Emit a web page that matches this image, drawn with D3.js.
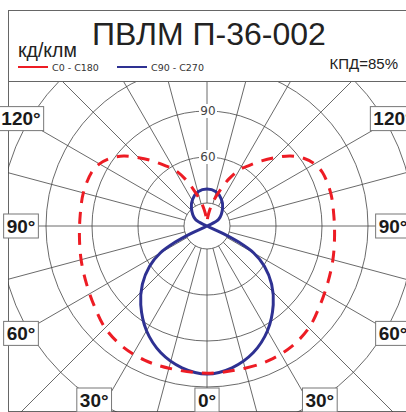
<!DOCTYPE html>
<html>
<head>
<meta charset="utf-8">
<script src="https://cdn.jsdelivr.net/npm/d3@7"></script>
<style>
body { margin: 0; background: #fff; }
svg { display: block; }
</style>
</head>
<body>
<div id="chart"></div>
<script>
// grid
var ringValues = [30, 60, 90, 120, 150];
var ringLabelValues = [60, 90];
var spokeAngles = d3.range(0, 360, 15);
var angleLabels = [-120, -90, -60, -30, 0, 30, 60, 90, 120];

// C0 - C180 (one half, mirrored on the other side)
var redAngles = [0, 15, 25, 35, 45, 55, 65, 75, 85, 95, 105, 115, 120, 125, 130, 135, 140, 145, 150, 155, 160, 165, 170, 175, 180];
var redValues = [111, 111, 111.5, 111, 109, 105, 102, 100, 98.5, 98, 98.5, 98, 96, 92, 86, 78, 70.4, 63.3, 57.4, 48.9, 39.8, 32.6, 26.1, 20.9, 17.6];

// C90 - C270, traced in drawing order (lower lobe, through the centre, small upper loop)
var blueAngles = [0, 10, 20, 30, 40, 48, 55, 60, 63, 65, 66, -120, -139, -152, -166, 180, 166, 152, 139, 120, -66, -65, -63, -60, -55, -48, -40, -30, -20, -10];
var blueValues = [111.5, 108.9, 103, 93.9, 82.2, 71.7, 60.7, 50.2, 38.5, 26.7, 15, 23.8, 30.5, 34.9, 38.2, 39.1, 38.2, 34.9, 30.5, 23.8, 15, 26.7, 38.5, 50.2, 60.7, 71.7, 82.2, 93.9, 103, 108.9];

var width = 406;
var height = 412;
var cx = 207;
var cy = 226;

var r = d3.scaleLinear().domain([30, 150]).range([23, 207]);
var rad = function(deg) { return Math.PI - deg * Math.PI / 180; };

var svg = d3.select('#chart')
    .append('svg')
    .attr('width', width)
    .attr('height', height);

svg.append('defs').append('clipPath')
    .attr('id', 'plotclip')
    .append('rect')
    .attr('x', 8)
    .attr('y', 82)
    .attr('width', 410)
    .attr('height', 330);

// frame
var frame = svg.append('g')
    .attr('stroke', '#666')
    .attr('stroke-width', 1)
    .attr('fill', 'none');
frame.append('rect').attr('x', 8.5).attr('y', 10.5).attr('width', 410).attr('height', 401);
frame.append('line').attr('x1', 8.5).attr('x2', 420).attr('y1', 81.5).attr('y2', 81.5);

// header
svg.append('text')
    .attr('x', 209)
    .attr('y', 45)
    .attr('text-anchor', 'middle')
    .style('font-family', 'Liberation Sans, Arial, sans-serif')
    .style('font-size', '32px')
    .attr('fill', '#222')
    .text('ПВЛМ П-36-002');

svg.append('text')
    .attr('x', 18)
    .attr('y', 57)
    .style('font-family', 'Liberation Sans, Arial, sans-serif')
    .style('font-size', '19.5px')
    .attr('fill', '#222')
    .text('кд/клм');

svg.append('text')
    .attr('x', 398)
    .attr('y', 69)
    .attr('text-anchor', 'end')
    .style('font-family', 'Liberation Sans, Arial, sans-serif')
    .style('font-size', '15px')
    .attr('fill', '#222')
    .text('КПД=85%');

var legendItems = [
    { label: 'C0 - C180', color: '#ed1c24', x: 18 },
    { label: 'C90 - C270', color: '#2e3192', x: 117 }
];

var legend = svg.selectAll('.legend')
    .data(legendItems)
    .enter()
    .append('g')
    .attr('class', 'legend')
    .attr('transform', function(d) { return 'translate(' + d.x + ',67)'; });

legend.append('line')
    .attr('x1', 0)
    .attr('x2', 30)
    .attr('stroke', function(d) { return d.color; })
    .attr('stroke-width', 2);

legend.append('text')
    .attr('x', 34)
    .attr('y', 4)
    .style('font-family', 'DejaVu Sans, sans-serif')
    .style('font-size', '9.5px')
    .attr('fill', '#333')
    .text(function(d) { return d.label; });

// polar grid
var plot = svg.append('g')
    .attr('clip-path', 'url(#plotclip)')
    .append('g')
    .attr('transform', 'translate(' + cx + ',' + cy + ')');

var grid = plot.append('g')
    .attr('stroke', '#444')
    .attr('stroke-width', 0.8)
    .attr('fill', 'none');

grid.selectAll('circle')
    .data(ringValues)
    .enter()
    .append('circle')
    .attr('r', function(d) { return r(d); });

grid.selectAll('line')
    .data(spokeAngles)
    .enter()
    .append('line')
    .attr('x1', function(d) { return r(30) * Math.sin(d * Math.PI / 180); })
    .attr('y1', function(d) { return r(30) * Math.cos(d * Math.PI / 180); })
    .attr('x2', function(d) { return 400 * Math.sin(d * Math.PI / 180); })
    .attr('y2', function(d) { return 400 * Math.cos(d * Math.PI / 180); });

var ringLabel = plot.selectAll('.ringlabel')
    .data(ringLabelValues)
    .enter()
    .append('g')
    .attr('class', 'ringlabel')
    .attr('transform', function(d) { return 'translate(1,' + (-r(d)) + ')'; });

ringLabel.append('rect')
    .attr('x', -9)
    .attr('y', -7)
    .attr('width', 18)
    .attr('height', 14)
    .attr('fill', '#fff');

ringLabel.append('text')
    .attr('text-anchor', 'middle')
    .attr('dy', '0.35em')
    .style('font-family', 'DejaVu Sans, sans-serif')
    .style('font-size', '12px')
    .attr('fill', '#444')
    .text(function(d) { return d; });

// curves
var redPoints = redAngles.map(function(a, i) { return [a, redValues[i]]; });
var redLoop = redPoints.concat(redPoints.slice(1, -1).reverse().map(function(p) { return [-p[0], p[1]]; }));

var bluePoints = blueAngles.map(function(a, i) { return [a, blueValues[i]]; });

var line = d3.lineRadial()
    .angle(function(d) { return rad(d[0]); })
    .radius(function(d) { return r(d[1]); })
    .curve(d3.curveCatmullRomClosed);

plot.append('path')
    .attr('d', line(bluePoints))
    .attr('fill', 'none')
    .attr('stroke', '#2e3192')
    .attr('stroke-width', 3);

plot.append('path')
    .attr('d', line(redLoop))
    .attr('fill', 'none')
    .attr('stroke', '#ed1c24')
    .attr('stroke-width', 3)
    .attr('stroke-dasharray', '12,9');

// angle labels on the frame
var labels = svg.append('g').selectAll('g')
    .data(angleLabels)
    .enter()
    .append('g');

labels.append('rect');
labels.append('text')
    .attr('text-anchor', 'middle')
    .attr('dy', '0.36em')
    .style('font-family', 'Liberation Sans, Arial, sans-serif')
    .style('font-size', '19px')
    .style('font-weight', 'bold')
    .attr('fill', '#1a1a1a')
    .text(function(d) { return Math.abs(d) + '°'; });

labels.each(function(d) {
    var g = d3.select(this);
    var w = g.select('text').node().getComputedTextLength() + 6;
    var s = Math.sin(d * Math.PI / 180);
    var c = Math.cos(d * Math.PI / 180);
    var t = Infinity;
    if (Math.abs(s) > 1e-6) t = Math.min(t, 186 / Math.abs(s));
    if (c > 1e-6) t = Math.min(t, 174 / c);
    var x = s * t;
    var y = c * t;
    if (Math.abs(y - 174) < 0.5 && Math.abs(s) > 1e-6) x += (s > 0 ? 1 : -1) * (w / 2 - 5);
    g.attr('transform', 'translate(' + (cx + x) + ',' + (cy + y) + ')');
    g.select('rect')
        .attr('x', -w / 2)
        .attr('y', -12)
        .attr('width', w)
        .attr('height', 24)
        .attr('fill', '#fff')
        .attr('stroke', '#777')
        .attr('stroke-width', 1);
});
</script>
</body>
</html>
